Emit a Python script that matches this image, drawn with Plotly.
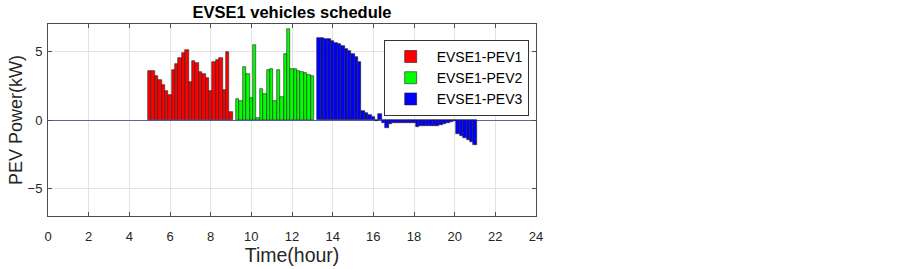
import plotly.graph_objects as go

step = 1 / 6  # 10-minute slots, hours

pev1_start = 5.0
pev1_kw = [3.55, 3.55, 3.24, 2.9, 2.52, 2.15, 1.79, 3.68, 4.12, 4.49, 4.85, 5.12,
           2.77, 4.29, 4.16, 3.5, 3.38, 3.06, 2.13, 4.21, 4.39, 4.49, 2.2, 4.93, 0.59]

pev2_start = 9 + 2 / 6
pev2_kw = [1.52, 1.42, 3.9, 3.38, 1.62, 5.47, 0.17, 2.25, 1.91, 3.68, 3.75, 1.40,
           3.68, 1.71, 4.78, 6.62, 3.70, 3.70, 3.60, 3.5, 3.43, 3.31, 3.18]

pev3_start = 13 + 2 / 6
pev3_kw = [5.96, 5.96, 5.93, 5.88, 5.79, 5.64, 5.51, 5.39, 5.2, 5.05, 4.83, 4.61, 4.21,
           0.66, 0.49, 0.35, 0.2, -0.1, 0.45, -0.25, -0.55, -0.3,
           -0.2, -0.2, -0.2, -0.2, -0.2, -0.2, -0.2,
           -0.5, -0.45, -0.42, -0.42, -0.42, -0.42, -0.42, -0.4,
           -0.3, -0.25, -0.15, -0.1,
           -1.05, -1.15, -1.3, -1.47, -1.6, -1.85]

series_names = ["EVSE1-PEV1", "EVSE1-PEV2", "EVSE1-PEV3"]
series_colors = ["#ff0000", "#00ff00", "#0000ff"]
x_ticks = list(range(0, 25, 2))
y_ticks = [-5, 0, 5]

FONT = "Arial, Liberation Sans, Helvetica, sans-serif"

fig = go.Figure()
for name, color, start, vals in zip(series_names, series_colors,
                                    [pev1_start, pev2_start, pev3_start],
                                    [pev1_kw, pev2_kw, pev3_kw]):
    xs = [start + i * step for i in range(len(vals))]
    fig.add_trace(go.Bar(
        x=xs, y=vals, width=step, name=name,
        marker=dict(color=color, line=dict(color="#222222", width=0.6)),
    ))

axis_common = dict(
    showline=True, linecolor="#4d4d4d", linewidth=1, mirror="ticks",
    ticks="inside", ticklen=4, tickcolor="#4d4d4d",
    showgrid=True, gridcolor="#e3e3e3", gridwidth=1,
    tickfont=dict(family=FONT, size=13, color="#262626"),
    automargin=False,
)

W, H = 903, 269

fig.update_layout(
    width=W, height=H,
    margin=dict(l=48, r=367, t=24, b=53),
    paper_bgcolor="white", plot_bgcolor="white",
    barmode="overlay", bargap=0,
    showlegend=True,
    title=dict(text="<b>EVSE1 vehicles schedule</b>", x=292 / W, xanchor="center",
               y=1 - 12 / H, yanchor="middle",
               font=dict(family=FONT, size=16.5, color="#000000")),
    legend=dict(x=0.985, xanchor="right", y=0.917, yanchor="top",
                bgcolor="white", bordercolor="#333333", borderwidth=1,
                font=dict(family=FONT, size=14, color="#000000"),
                itemwidth=42),
    xaxis=dict(range=[0, 24], tickvals=x_ticks, zeroline=False, ticklabelstandoff=8,
               title=dict(text="Time(hour)", font=dict(family=FONT, size=19.5, color="#262626"),
                          standoff=4),
               **axis_common),
    yaxis=dict(range=[-7, 7], tickvals=y_ticks, ticklabelstandoff=2,
               zeroline=True, zerolinecolor="#6060b0", zerolinewidth=1,
               title=dict(text="PEV Power(kW)", font=dict(family=FONT, size=18, color="#262626"),
                          standoff=0),
               **axis_common),
)

fig.write_html("out.html", config={"displayModeBar": False},
               post_script="document.body.style.margin='0';")
